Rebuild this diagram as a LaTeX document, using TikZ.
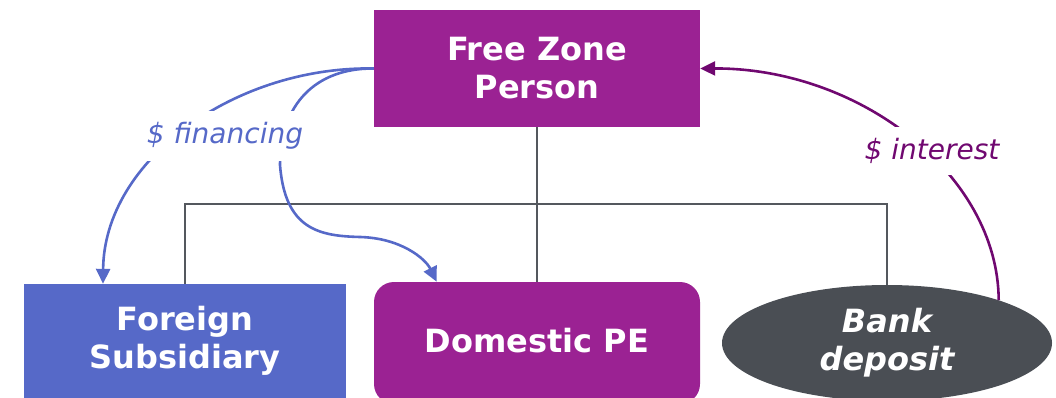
\documentclass[tikz,border=0pt]{standalone}
\usepackage{fontspec}
\setmainfont{DejaVu Sans}
\usetikzlibrary{arrows.meta,shapes.geometric}
\definecolor{zonepurple}{RGB}{155,34,147}
\definecolor{subblue}{RGB}{86,105,200}
\definecolor{bankgray}{RGB}{74,78,84}
\definecolor{treegray}{RGB}{84,88,94}
\definecolor{interestpurple}{RGB}{112,8,112}
\begin{document}
\begin{tikzpicture}[x=1pt,y=-1pt,
  entity/.style={text=white,font=\fontsize{32}{38}\selectfont\bfseries,align=center,inner sep=0pt},
  tree/.style={draw=treegray,line width=2.5pt},
  flow/.style={line width=2.6pt,-{Triangle[length=15pt,width=14pt]}},
  flowlabel/.style={fill=white,font=\fontsize{28}{32}\selectfont\itshape,inner xsep=4pt,inner ysep=11pt}]
\useasboundingbox (0,0) rectangle (1056,398);

% entities
\node[entity,rectangle,fill=zonepurple,minimum width=326pt,minimum height=117pt] (fzp) at (537,68.5) {Free Zone\\Person};
\node[entity,rectangle,fill=subblue,minimum width=322pt,minimum height=114pt] (fs) at (185,341) {Foreign\\Subsidiary};
\node[entity,rectangle,rounded corners=20pt,fill=zonepurple,minimum width=326pt,minimum height=122pt] (dpe) at (537,343) {};
\node[entity] at (537,341) {Domestic PE};
\node[entity,ellipse,fill=bankgray,minimum width=330pt,minimum height=116pt,font=\fontsize{32}{38}\selectfont\bfseries\itshape] (bank) at (887,343) {Bank\\deposit};

% ownership tree
\draw[tree] (fzp.south) -- (dpe.north);
\draw[tree] (fs.north) -- ++(0,-80) -| (bank.north);

% financing flows
\draw[flow,draw=subblue] (fzp.west) .. controls (235,66) and (104,160) .. ([xshift=-82pt]fs.north);
\draw[flow,draw=subblue] (fzp.west) .. controls (315,68) and (280,105) .. (280,165)
  .. controls (285,230) and (320,236) .. (360,237)
  .. controls (400,238) and (425,258) .. ([xshift=63pt]dpe.north west);
\node[flowlabel,text=subblue] (fin) at (225,136) {\$ financing};

% interest flow
\draw[flow,draw=interestpurple] (bank.21) .. controls (998,175) and (860,68) .. (fzp.east);
\node[flowlabel,text=interestpurple] (int) at (932,151) {\$ interest};
\end{tikzpicture}
\end{document}
